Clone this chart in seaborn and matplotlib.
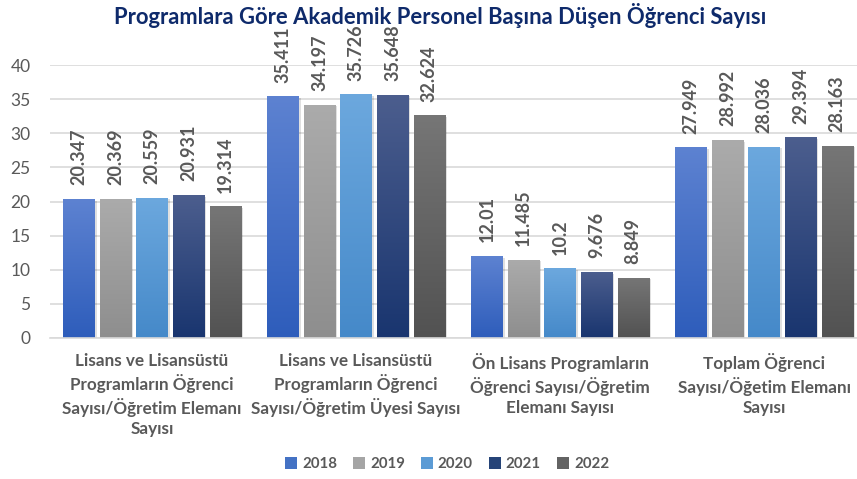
import numpy as np
import pandas as pd
import matplotlib
matplotlib.use("Agg")
import matplotlib.pyplot as plt
import seaborn as sns
from matplotlib.colors import LinearSegmentedColormap
from matplotlib.patches import Patch

categories = [
    "Lisans ve Lisansüstü\nProgramların Öğrenci\nSayısı/Öğretim Elemanı\nSayısı",
    "Lisans ve Lisansüstü\nProgramların Öğrenci\nSayısı/Öğretim Üyesi Sayısı",
    "Ön Lisans Programların\nÖğrenci Sayısı/Öğretim\nElemanı Sayısı",
    "Toplam Öğrenci\nSayısı/Öğetim Elemanı\nSayısı",
]
years = ["2018", "2019", "2020", "2021", "2022"]
v2018 = [20.347, 35.411, 12.01, 27.949]
v2019 = [20.369, 34.197, 11.485, 28.992]
v2020 = [20.559, 35.726, 10.2, 28.036]
v2021 = [20.931, 35.648, 9.676, 29.394]
v2022 = [19.314, 32.624, 8.849, 28.163]
series = [v2018, v2019, v2020, v2021, v2022]

title = "Programlara Göre Akademik Personel Başına Düşen Öğrenci Sayısı"

# base colour plus (top, bottom) gradient stops for each year
base_colors = ["#4472C4", "#A5A5A5", "#5B9BD5", "#264478", "#636363"]
grad_stops = [
    ("#5D82D1", "#2E5DBB"),
    ("#ABABAB", "#8E8E8E"),
    ("#6CA8DE", "#4589C9"),
    ("#4C5E8E", "#19356F"),
    ("#767676", "#525252"),
]

df = pd.DataFrame(
    [(c, y, v) for y, vals in zip(years, series) for c, v in zip(categories, vals)],
    columns=["kategori", "yil", "deger"],
)

sns.set_theme(style="white")
plt.rcParams["font.family"] = ["Lato", "DejaVu Sans"]

fig = plt.figure(figsize=(8.57, 4.79), dpi=100)
W, H = 857, 479
ax_left, ax_right, ax_top, ax_bottom = 50, 866, 65, 338
ax = fig.add_axes([ax_left / W, 1 - ax_bottom / H, (ax_right - ax_left) / W, (ax_bottom - ax_top) / H])

sns.barplot(
    data=df, x="kategori", y="deger", hue="yil", order=categories, hue_order=years,
    palette=base_colors, width=0.895, gap=0.15, ax=ax, legend=False,
    edgecolor="none", linewidth=0, saturation=1,
)

ax.set_ylim(0, 40)
ax.set_yticks(range(0, 41, 5))
ax.yaxis.grid(True, color="#D9D9D9", linewidth=1.2)
ax.set_axisbelow(True)
for s in ["top", "right", "left"]:
    ax.spines[s].set_visible(False)
ax.spines["bottom"].set_color("#D9D9D9")
ax.spines["bottom"].set_linewidth(1.2)
ax.set_xlabel("")
ax.set_ylabel("")
ax.tick_params(axis="y", length=0, labelsize=12.5, labelcolor="#595959", pad=14)
ax.tick_params(axis="x", length=0, pad=11)
ax.set_xticks(range(len(categories)))
ax.set_xticklabels(categories, fontsize=12.3, fontweight="bold", color="#595959",
                   linespacing=1.3)

grad = np.linspace(0, 1, 256).reshape(-1, 1)
for container, (top, bot), vals in zip(ax.containers, grad_stops, series):
    cmap = LinearSegmentedColormap.from_list("g", [bot, top])
    for bar, v in zip(container, vals):
        x0, w, h = bar.get_x(), bar.get_width(), bar.get_height()
        # soft shadow behind the bar
        sh = plt.Rectangle((x0 + 0.006, 0), w + 0.004, h - 0.25, facecolor="#000000",
                           alpha=0.12, zorder=bar.get_zorder() - 0.1, linewidth=0)
        ax.add_patch(sh)
        im = ax.imshow(grad, cmap=cmap, aspect="auto", origin="lower",
                       extent=(x0, x0 + w, 0, h), zorder=bar.get_zorder() + 0.1,
                       interpolation="bicubic")
        im.set_clip_path(bar)
        ax.text(x0 + w / 2, h + 2.0, f"{v:g}", rotation=90, ha="center", va="bottom",
                fontsize=13, fontweight="bold", color="#595959", clip_on=False)
ax.set_xlim(-0.5, len(categories) - 0.5)
ax.set_ylim(0, 40)

fig.text(440 / W, 1 - 15 / H, title, ha="center", va="center", fontsize=15.8,
         fontweight="bold", color="#0E2A6B")

handles = [Patch(facecolor=c, edgecolor="none") for c in base_colors]
fig.legend(handles, years, loc="center", bbox_to_anchor=(447 / W, 1 - 464 / H), ncol=5,
           frameon=False, handlelength=0.8, handleheight=0.8, handletextpad=0.35,
           columnspacing=1.05, prop={"size": 10.8, "weight": "bold"}, labelcolor="#595959")

fig.savefig("out.png", dpi=100)
